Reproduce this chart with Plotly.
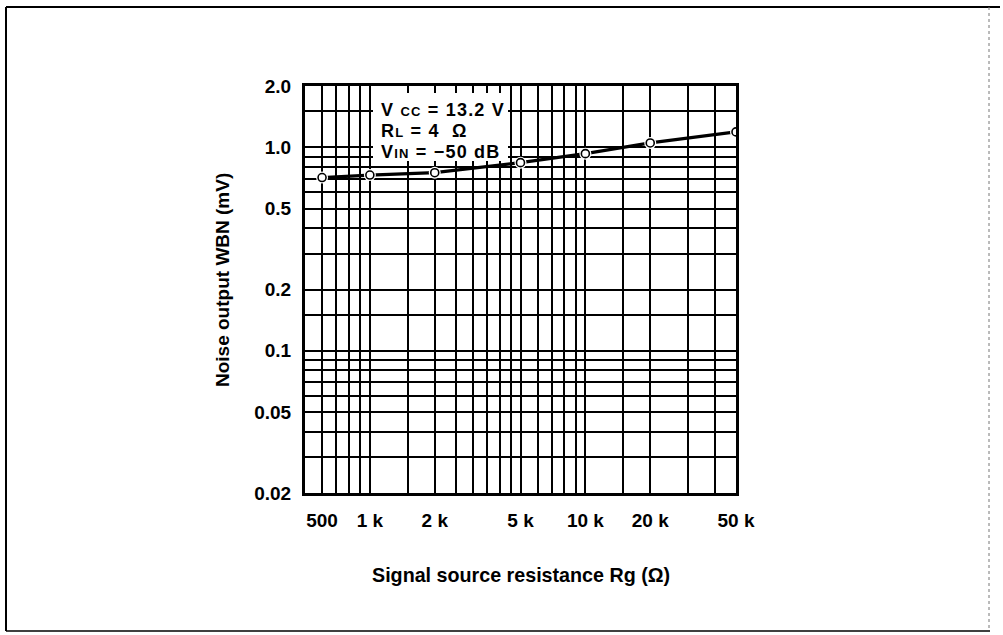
import math
import plotly.graph_objects as go

# ---- data ----
resistance = [600, 1000, 2000, 5000, 10000, 20000, 50000]          # drawn x positions (ohm)
x_tick_labels = ["500", "1 k", "2 k", "5 k", "10 k", "20 k", "50 k"]
noise_mv = [0.71, 0.73, 0.75, 0.84, 0.93, 1.05, 1.19]               # noise output (mV)

y_tick_vals = [0.02, 0.05, 0.1, 0.2, 0.5, 1.0, 2.0]
y_tick_labels = ["0.02", "0.05", "0.1", "0.2", "0.5", "1.0", "2.0"]

x_grid = [600, 700, 800, 900, 1000, 1500, 2000, 2500, 3000, 3500, 4000, 4500,
          5000, 6000, 7000, 8000, 9000, 10000, 15000, 20000, 30000, 40000]
y_grid = [0.03, 0.04, 0.05, 0.06, 0.07, 0.08, 0.09, 0.1, 0.15, 0.2, 0.3, 0.4,
          0.5, 0.6, 0.7, 0.8, 0.9, 1.0, 1.5]

conditions = [
    "V <span style='font-size:13px'>CC</span> = 13.2 V",
    "R<span style='font-size:13px'>L</span> = 4  Ω",
    "V<span style='font-size:13px'>IN</span> = −50 dB",
]

FONT = "Liberation Sans, Arial, Helvetica, sans-serif"

# ---- layout geometry (pixels) ----
W, H = 1003, 635
L, R, T, B = 305, 736, 86, 493

def px_x(p):
    return (p - L) / (R - L)

def px_y(p):
    return (B - p) / (B - T)

fig = go.Figure()

fig.add_trace(go.Scatter(
    x=resistance, y=noise_mv, mode="lines",
    line=dict(color="black", width=3.2), hoverinfo="skip", showlegend=False))
fig.add_trace(go.Scatter(
    x=resistance, y=noise_mv, mode="markers",
    marker=dict(size=12, color="white", line=dict(width=0)),
    hoverinfo="skip", showlegend=False))
fig.add_trace(go.Scatter(
    x=resistance, y=noise_mv, mode="markers",
    marker=dict(size=8, color="white", line=dict(color="black", width=1.6)),
    showlegend=False))

axis_common = dict(
    type="log",
    showgrid=True, gridcolor="black", gridwidth=2,
    showline=True, linecolor="black", linewidth=3, mirror=True,
    ticks="", zeroline=False,
    tickfont=dict(family=FONT, size=19, color="black", weight="bold"),
)

fig.update_xaxes(
    **axis_common,
    range=[math.log10(500), math.log10(50000)],
    tickmode="array", tickvals=resistance, ticktext=x_tick_labels,
    ticklabelstandoff=8,
    minor=dict(tickmode="array", tickvals=x_grid, showgrid=True,
               gridcolor="black", gridwidth=2, ticks=""),
)
fig.update_yaxes(
    **axis_common,
    range=[math.log10(0.02), math.log10(2.0)],
    tickmode="array", tickvals=y_tick_vals, ticktext=y_tick_labels,
    ticklabelstandoff=7,
    minor=dict(tickmode="array", tickvals=y_grid, showgrid=True,
               gridcolor="black", gridwidth=2, ticks=""),
)

shapes = [
    # white box behind the condition text
    dict(type="rect", xref="paper", yref="paper", layer="above",
         x0=px_x(373), x1=px_x(508), y0=px_y(161), y1=px_y(93),
         fillcolor="white", line=dict(width=0)),
    # outer frame
    dict(type="line", xref="paper", yref="paper", x0=px_x(6), x1=px_x(1000),
         y0=px_y(7), y1=px_y(7), line=dict(color="black", width=2)),
    dict(type="line", xref="paper", yref="paper", x0=px_x(6), x1=px_x(6),
         y0=px_y(7), y1=px_y(631), line=dict(color="black", width=2)),
    dict(type="line", xref="paper", yref="paper", x0=px_x(6), x1=px_x(990),
         y0=px_y(631), y1=px_y(631), line=dict(color="black", width=1.5)),
    dict(type="line", xref="paper", yref="paper", x0=px_x(989), x1=px_x(989),
         y0=px_y(7), y1=px_y(631), line=dict(color="#777777", width=1, dash="dot")),
]

annotations = []
for i, txt in enumerate(conditions):
    annotations.append(dict(
        xref="paper", yref="paper", x=px_x(379), y=px_y(109.5 + 21 * i),
        xanchor="left", yanchor="middle", showarrow=False,
        text="<span style='letter-spacing:1.2px'>" + txt + "</span>",
        font=dict(family=FONT, size=18, color="black", weight="bold")))

annotations.append(dict(
    xref="paper", yref="paper", x=px_x(521), y=px_y(575),
    xanchor="center", yanchor="middle", showarrow=False,
    text="Signal source resistance Rg (Ω)",
    font=dict(family=FONT, size=19.7, color="black", weight="bold")))
annotations.append(dict(
    xref="paper", yref="paper", x=px_x(222), y=px_y(280),
    xanchor="center", yanchor="middle", showarrow=False, textangle=-90,
    text="Noise output WBN (mV)",
    font=dict(family=FONT, size=19, color="black", weight="bold")))

fig.update_layout(
    width=W, height=H,
    margin=dict(l=L, r=W - R, t=T, b=H - B),
    paper_bgcolor="white", plot_bgcolor="white",
    shapes=shapes, annotations=annotations,
    showlegend=False,
)

fig.write_html("out.html", config={"displayModeBar": False},
               post_script="document.body.style.margin='0px';")
